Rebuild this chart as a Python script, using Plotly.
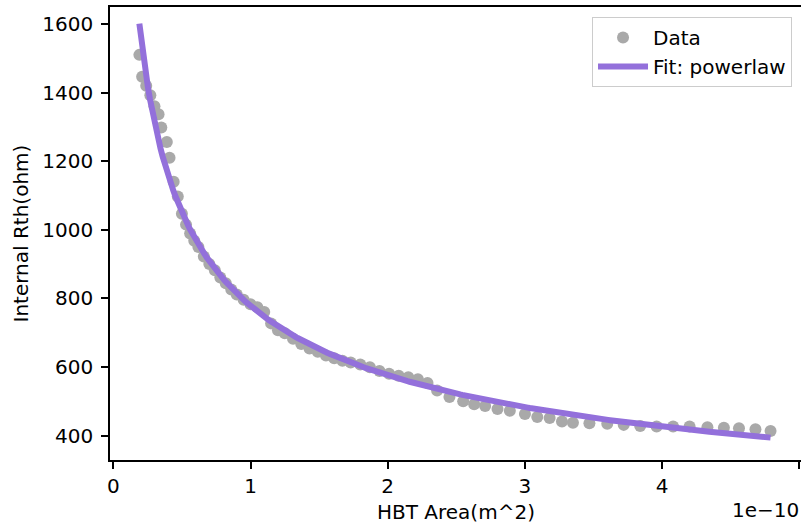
import numpy as np
import plotly.graph_objects as go

# HBT emitter area, in units of 1e-10 m^2
area_e10 = [0.19, 0.21, 0.24, 0.27, 0.30, 0.33, 0.35, 0.39, 0.41, 0.44, 0.47,
            0.50, 0.53, 0.56, 0.59, 0.62, 0.66, 0.70, 0.74, 0.78, 0.82, 0.86, 0.90, 0.95,
            1.00, 1.05, 1.10, 1.15, 1.20, 1.25, 1.31, 1.37, 1.43, 1.49, 1.55, 1.61, 1.67,
            1.73, 1.80, 1.87, 1.94, 2.01, 2.08, 2.15, 2.22, 2.29, 2.36, 2.45, 2.55, 2.63,
            2.71, 2.80, 2.89, 3.00, 3.09, 3.18, 3.27, 3.35, 3.47, 3.60, 3.72, 3.84, 3.96,
            4.08, 4.20, 4.33, 4.45, 4.56, 4.68, 4.79]

# Internal thermal resistance (ohm)
rth_ohm = [1510, 1446, 1420, 1392, 1360, 1337, 1298, 1256, 1210, 1140, 1097,
           1047, 1015, 989, 968, 950, 922, 900, 882, 861, 844, 826, 811, 796,
           783, 774, 760, 727, 707, 698, 682, 667, 654, 644, 633, 625, 618,
           613, 607, 599, 588, 580, 574, 570, 564, 553, 531, 512, 500, 491,
           486, 477, 472, 463, 454, 451, 441, 437, 436, 434, 431, 428, 426,
           426, 426, 424, 423, 421, 418, 413]

# Power-law fit  Rth = A * area^B  (area in 1e-10 m^2)
FIT_A = 778.0
FIT_B = -0.4346

x_tick_vals = [0, 1, 2, 3, 4, 5]
x_tick_text = ["0", "1", "2", "3", "4", "5"]
y_tick_vals = [400, 600, 800, 1000, 1200, 1400, 1600]
y_tick_text = ["400", "600", "800", "1000", "1200", "1400", "1600"]

x_fit = np.linspace(min(area_e10), max(area_e10), 300)
y_fit = FIT_A * x_fit ** FIT_B

FONT = "DejaVu Sans"
FS = 20

fig = go.Figure()
fig.add_trace(go.Scatter(
    x=area_e10, y=rth_ohm, mode="markers", name="Data",
    marker=dict(color="#a9a9a9", size=12, line=dict(width=0)),
))
fig.add_trace(go.Scatter(
    x=x_fit, y=y_fit, mode="lines", name="Fit: powerlaw",
    line=dict(color="#9370db", width=6),
))

axis_common = dict(
    showgrid=False, zeroline=False, showline=True, linecolor="black",
    linewidth=1.5, ticks="outside", ticklen=7, tickwidth=1.5, tickcolor="black",
    tickfont=dict(family=FONT, size=FS, color="black"),
)

fig.update_layout(
    width=801, height=529,
    margin=dict(l=110, r=0, t=7, b=69),
    paper_bgcolor="white", plot_bgcolor="white",
    font=dict(family=FONT, size=FS, color="black"),
    xaxis=dict(range=[-0.024, 5.012], tickvals=x_tick_vals, ticktext=x_tick_text,
               mirror=True, **axis_common),
    yaxis=dict(range=[328.6, 1649.6], tickvals=y_tick_vals, ticktext=y_tick_text,
               mirror=False, ticklabelstandoff=4, **axis_common),
    legend=dict(
        x=0.987, y=0.978, xanchor="right", yanchor="top",
        bgcolor="rgba(255,255,255,0.8)", bordercolor="#cccccc", borderwidth=1,
        itemwidth=50,
        font=dict(family=FONT, size=FS, color="black"),
    ),
    showlegend=True,
    annotations=[
        dict(text="HBT Area(m^2)", xref="paper", yref="paper", x=0.5, y=-0.1148,
             xanchor="center", yanchor="middle", showarrow=False,
             font=dict(family=FONT, size=FS, color="black")),
        dict(text="Internal Rth(ohm)", xref="paper", yref="paper", x=-0.1288, y=0.5,
             xanchor="center", yanchor="middle", textangle=-90, showarrow=False,
             font=dict(family=FONT, size=FS, color="black")),
        dict(text="1e\u221210", xref="paper", yref="paper", x=1.0, y=-0.110,
             xanchor="right", yanchor="middle", showarrow=False,
             font=dict(family=FONT, size=FS, color="black")),
    ],
)

fig.write_html("out.html")
